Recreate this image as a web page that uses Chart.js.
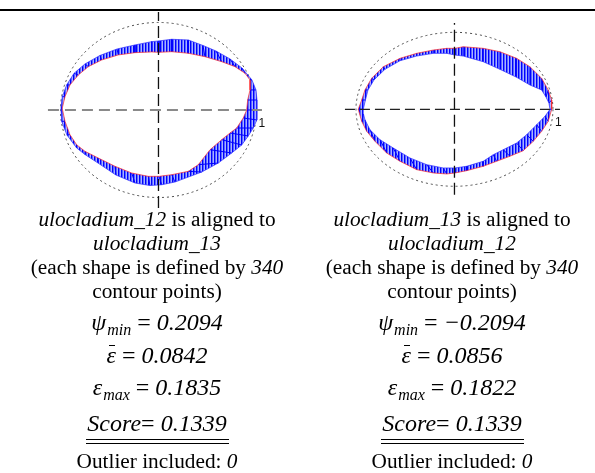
<!DOCTYPE html>
<html>
<head>
<meta charset="utf-8">
<script src="https://cdn.jsdelivr.net/npm/chart.js@4.4.1/dist/chart.umd.min.js"></script>
<style>
  html, body { margin: 0; padding: 0; background: #fff; }
  body { width: 595px; height: 473px; position: relative; overflow: hidden;
         font-family: "Liberation Serif", "Times New Roman", serif; color: #000; }
  #rule { position: absolute; left: 0; top: 9px; width: 595px; height: 2px; background: #000; }
  canvas { position: absolute; }
  .txt { position: absolute; width: 400px; text-align: center; line-height: 1; white-space: nowrap; }
  .sub { font-size: 16px; font-style: italic; position: relative; top: 5px; margin-left: 1px; }
  .bar { position: relative; }
  .bar::before { content: ''; position: absolute; left: 0.12em; right: 0.02em; top: 0.14em; border-top: 1px solid #000; }
  .dbl { display: inline-block; position: relative; }
  .dbl::after { content: ''; position: absolute; left: -1px; right: -2px; top: 28px; height: 3px;
                border-top: 1px solid #000; border-bottom: 1px solid #000; }
</style>
</head>
<body>
<div id="rule"></div>
<canvas id="leftPlot" width="230" height="200" style="left:40px;top:11px"></canvas>
<canvas id="rightPlot" width="235" height="200" style="left:335px;top:11px"></canvas>
<script>
// Contour points (unit-circle coordinates), listed as matched pairs:
// index i of the aligned shape corresponds to index i of the target shape.
const leftTarget = [
  [-0.982, 0.019], [-0.954, 0.152], [-0.903, 0.286], [-0.818, 0.400], [-0.716, 0.495],
  [-0.580, 0.571], [-0.410, 0.629], [-0.240, 0.655], [-0.069, 0.663], [0.005, 0.659],
  [0.135, 0.666], [0.304, 0.648], [0.474, 0.609], [0.645, 0.552], [0.781, 0.495],
  [0.883, 0.419], [0.934, 0.343], [0.934, 0.229], [0.910, 0.114], [0.900, 0.000],
  [0.865, -0.091], [0.798, -0.206], [0.730, -0.263], [0.645, -0.339], [0.526, -0.454],
  [0.406, -0.625], [0.304, -0.701], [0.135, -0.739], [0.005, -0.758], [-0.104, -0.758],
  [-0.273, -0.720], [-0.444, -0.643], [-0.614, -0.549], [-0.750, -0.472], [-0.835, -0.397],
  [-0.903, -0.282], [-0.954, -0.129]
];
const leftAligned = [
  [-0.995, 0.023], [-0.982, 0.152], [-0.937, 0.286], [-0.862, 0.419], [-0.750, 0.526],
  [-0.597, 0.623], [-0.423, 0.697], [-0.240, 0.743], [-0.069, 0.781], [0.005, 0.789],
  [0.135, 0.808], [0.304, 0.800], [0.454, 0.737], [0.587, 0.674], [0.730, 0.583],
  [0.852, 0.480], [0.954, 0.343], [0.995, 0.229], [1.005, 0.114], [1.005, 0.000],
  [1.002, -0.114], [0.967, -0.206], [0.916, -0.297], [0.849, -0.400], [0.747, -0.491],
  [0.610, -0.606], [0.441, -0.709], [0.168, -0.823], [0.033, -0.854], [-0.087, -0.863],
  [-0.240, -0.834], [-0.434, -0.743], [-0.617, -0.606], [-0.750, -0.509], [-0.835, -0.434],
  [-0.934, -0.286], [-0.988, -0.129]
];
const rightTarget = [
  [-0.977, 0.000], [-0.942, 0.121], [-0.909, 0.251], [-0.841, 0.403], [-0.723, 0.553],
  [-0.553, 0.662], [-0.384, 0.727], [-0.215, 0.770], [-0.079, 0.792], [0.005, 0.792],
  [0.089, 0.813], [0.292, 0.792], [0.462, 0.748], [0.631, 0.662], [0.766, 0.553],
  [0.885, 0.403], [0.952, 0.251], [0.987, 0.121], [0.987, 0.000], [0.952, -0.156],
  [0.885, -0.286], [0.800, -0.416], [0.698, -0.538], [0.563, -0.610], [0.428, -0.675],
  [0.292, -0.740], [0.124, -0.797], [0.005, -0.827], [-0.079, -0.840], [-0.215, -0.827],
  [-0.384, -0.784], [-0.553, -0.675], [-0.688, -0.568], [-0.807, -0.416], [-0.891, -0.286],
  [-0.942, -0.156]
];
const rightAligned = [
  [-0.926, 0.000], [-0.904, 0.121], [-0.878, 0.251], [-0.817, 0.381], [-0.706, 0.519],
  [-0.553, 0.631], [-0.384, 0.692], [-0.215, 0.727], [-0.079, 0.727], [0.005, 0.705],
  [0.089, 0.692], [0.292, 0.618], [0.462, 0.519], [0.631, 0.416], [0.766, 0.316],
  [0.885, 0.251], [0.929, 0.160], [0.959, 0.082], [0.970, 0.000], [0.919, -0.091],
  [0.835, -0.200], [0.733, -0.330], [0.631, -0.438], [0.495, -0.525], [0.394, -0.590],
  [0.292, -0.675], [0.124, -0.740], [0.005, -0.762], [-0.114, -0.762], [-0.282, -0.719],
  [-0.452, -0.632], [-0.621, -0.503], [-0.756, -0.395], [-0.858, -0.265], [-0.909, -0.135],
  [-0.924, -0.061]
];

// Alignment results for the two panels
const shapeNames = ["ulocladium_12", "ulocladium_13"];
const alignedTo = ["ulocladium_13", "ulocladium_12"];
const contourPoints = [340, 340];
const psiMin = [0.2094, -0.2094];
const epsMean = [0.0842, 0.0856];
const epsMax = [0.1835, 0.1822];
const scores = [0.1339, 0.1339];
const outliers = [0, 0];

const toPts = arr => arr.map(p => ({x: p[0], y: p[1]}));

// fine vertical stripes used for the band between the two contours
function hatchPattern() {
  const c = document.createElement("canvas");
  c.width = 3; c.height = 1;
  const g = c.getContext("2d");
  g.fillStyle = "#0000ff"; g.fillRect(0, 0, 1, 1);
  g.fillStyle = "#5868ff"; g.fillRect(1, 0, 1, 1);
  g.fillStyle = "#aab2ff"; g.fillRect(2, 0, 1, 1);
  return g.createPattern(c, "repeat");
}

// dotted unit circle + the "1" mark on the horizontal axis
const unitCircle = {
  id: "unitCircle",
  beforeDatasetsDraw(chart) {
    const {ctx, scales: {x, y}} = chart;
    const cx = x.getPixelForValue(0), cy = y.getPixelForValue(0);
    const rx = x.getPixelForValue(1) - cx, ry = cy - y.getPixelForValue(1);
    ctx.save();
    ctx.setLineDash([2, 3]);
    ctx.strokeStyle = "#4a4a4a";
    ctx.lineWidth = 1;
    ctx.beginPath();
    ctx.ellipse(cx, cy, rx, ry, 0, 0, Math.PI * 2);
    ctx.stroke();
    ctx.restore();
  },
  afterDatasetsDraw(chart) {
    const {ctx, scales: {x, y}} = chart;
    ctx.save();
    ctx.font = '12px "Liberation Sans", Arial, sans-serif';
    ctx.fillStyle = "#111";
    ctx.textBaseline = "alphabetic";
    ctx.fillText("1", x.getPixelForValue(1) + 2, y.getPixelForValue(0) + 17);
    ctx.restore();
  }
};

function buildPanel(id, target, aligned, range, axes) {
  const t = toPts(target), a = toPts(aligned);
  const gap = {x: null, y: null};

  // band polygon: aligned loop forward, target loop backward
  const band = a.concat([a[0], t[0]], t.slice(1).reverse(), [t[0]]);
  // correspondence lines between matched points
  const hatch = [];
  a.forEach((p, i) => hatch.push(p, t[i], gap));

  const line = (data, color, width, order, extra) => Object.assign({
    data, showLine: true, borderColor: color, borderWidth: width,
    pointRadius: 0, fill: false, order, tension: 0
  }, extra || {});

  return new Chart(document.getElementById(id), {
    type: "scatter",
    data: {
      datasets: [
        line(band, "transparent", 0, 6, {fill: "shape", backgroundColor: hatchPattern()}),
        line(hatch, "#0000ff", 1, 5),
        line(a.concat([a[0]]), "#2a2aff", 0.7, 4),
        line(t.concat([t[0]]), "#ff2a2a", 0.7, 3),
        line([{x: axes.h[0], y: 0}, {x: axes.h[1], y: 0}], axes.hColor, axes.hWidth, 1, {borderDash: axes.hDash}),
        line([{x: 0, y: axes.v[0]}, {x: 0, y: axes.v[1]}], "#111", 1.3, 1, {borderDash: [12, 5]})
      ]
    },
    options: {
      responsive: false,
      animation: false,
      events: [],
      layout: {padding: 0},
      plugins: {legend: {display: false}, tooltip: {enabled: false}},
      scales: {
        x: {type: "linear", min: range.x[0], max: range.x[1], display: false},
        y: {type: "linear", min: range.y[0], max: range.y[1], display: false}
      }
    },
    plugins: [unitCircle]
  });
}

buildPanel("leftPlot", leftTarget, leftAligned,
  {x: [-1.209, 1.138], y: [-1.154, 1.131]},
  {h: [-1.128, 1.056], v: [-1.12, 1.12], hColor: "#8a8a8a", hWidth: 2, hDash: [11, 6]});
buildPanel("rightPlot", rightTarget, rightAligned,
  {x: [-1.213, 1.173], y: [-1.321, 1.277]},
  {h: [-1.112, 1.071], v: [-1.11, 1.12], hColor: "#222", hWidth: 1.2, hDash: [10, 5]});

// caption text under each panel
const fmt = v => (v < 0 ? "\u2212" : "") + Math.abs(v).toFixed(4);
const textCenters = [157, 452];

function putLine(cx, baseline, size, html) {
  const d = document.createElement("div");
  d.className = "txt";
  d.style.fontSize = size + "px";
  d.style.left = (cx - 200) + "px";
  d.style.top = (baseline - 0.8375 * size) + "px";
  d.innerHTML = html;
  document.body.appendChild(d);
}

textCenters.forEach((cx, i) => {
  putLine(cx, 226.7, 21.3, "<i>" + shapeNames[i] + "</i> is aligned to");
  putLine(cx, 251, 21.3, "<i>" + alignedTo[i] + "</i>");
  putLine(cx, 275, 21.3, "(each shape is defined by <i>" + contourPoints[i] + "</i>");
  putLine(cx, 299, 21.3, "contour points)");
  putLine(cx, 330, 24, "<i>\u03c8</i><span class='sub'>min</span> = <i>" + fmt(psiMin[i]) + "</i>");
  putLine(cx, 363, 24, "<span class='bar'><i>\u03b5</i></span> = <i>" + fmt(epsMean[i]) + "</i>");
  putLine(cx, 395, 24, "<i>\u03b5</i><span class='sub'>max</span> = <i>" + fmt(epsMax[i]) + "</i>");
  putLine(cx, 431, 24, "<span class='dbl'><i>Score</i>= <i>" + fmt(scores[i]) + "</i></span>");
  putLine(cx, 469.3, 21.3, "Outlier included: <i>" + outliers[i] + "</i>");
});
</script>
</body>
</html>
